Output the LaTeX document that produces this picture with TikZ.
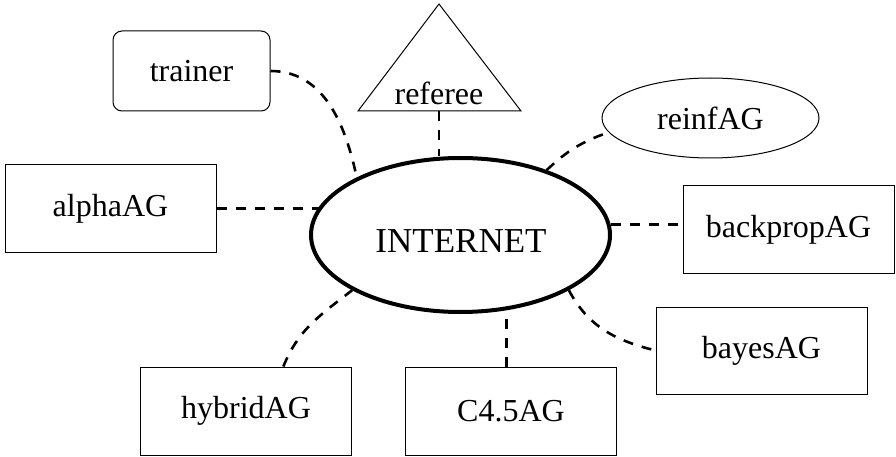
\documentclass[tikz,border=0pt]{standalone}
\usepackage{fontspec}
\setmainfont{Liberation Serif}
\usetikzlibrary{shapes.geometric}
\begin{document}
\begin{tikzpicture}[x=1pt,y=1pt,
  agbox/.style={draw, line width=1pt, rectangle, inner sep=0pt, minimum width=211pt, minimum height=87pt, font=\fontsize{32}{38}\selectfont},
  link/.style={line width=2.6pt, dash pattern=on 10pt off 9pt}]
\useasboundingbox (0,0) rectangle (896,-457);
% central ellipse
\node[draw, ellipse, line width=4pt, inner sep=0pt, minimum width=299pt, minimum height=154pt] (inet) at (460.5,-235) {};
\node[anchor=base, font=\fontsize{35}{42}\selectfont, inner sep=0pt] (inetlabel) at (461,-252) {INTERNET};
% peripheral nodes
\node[draw, line width=1pt, rectangle, rounded corners=9pt, inner sep=0pt, minimum width=157pt, minimum height=80pt, font=\fontsize{32}{38}\selectfont] (trainer) at (191.5,-71) {trainer};
\coordinate (triA) at (439,-4);
\coordinate (triB) at (521,-111);
\coordinate (triC) at (358,-111);
\coordinate (refbase) at (439,-111);
\draw[line width=1pt] (triA) -- (triB) -- (triC) -- cycle;
\node[anchor=base, inner sep=0pt, font=\fontsize{32}{38}\selectfont] (referee) at (439,-105) {referee};
\node[draw, ellipse, line width=1pt, inner sep=0pt, minimum width=217pt, minimum height=80pt, font=\fontsize{32}{38}\selectfont] (reinf) at (710.5,-118) {reinfAG};
\node[agbox] (alpha) at (110.5,-208.5) {alphaAG};
\node[agbox] (backprop) at (788.5,-229.5) {backpropAG};
\node[agbox] (bayes) at (761.5,-350.5) {bayesAG};
\node[agbox, minimum height=88pt] (hybrid) at (246,-411) {hybridAG};
\node[agbox, minimum height=88pt] (c45) at (511,-411) {C4.5AG};
% connectors
\draw[link] (trainer.east) to[out=0, in=102] (inet.151);
\draw[link] (refbase) -- (refbase |- inet.north);
\draw[link] (inet.37) to[bend left=12] (reinf.188);
\draw[link] (alpha.east) -- (alpha.east -| inet.169);
\draw[link] (inet.4) -- (inet.4 -| backprop.west);
\draw[link] (inet.-27) to[out=-62, in=166] (bayes.west);
\draw[link] (c45.96) -- (c45.96 |- inet.-58);
\draw[link] (hybrid.50) to[out=68, in=-142] (inet.-153);
\end{tikzpicture}
\end{document}
